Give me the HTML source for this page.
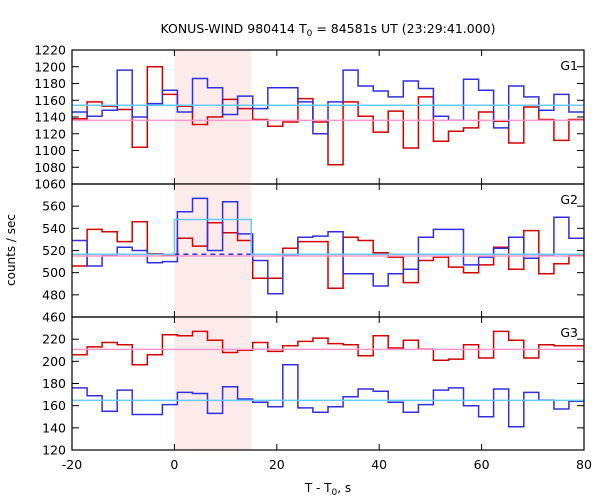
<!DOCTYPE html>
<html><head><meta charset="utf-8"><style>
body{margin:0;background:#fff;}
svg{display:block;font-family:"DejaVu Sans","Liberation Sans",sans-serif;}
</style></head><body>
<svg id="chart" width="600" height="500" xmlns="http://www.w3.org/2000/svg">
<text x="328" y="33" font-size="12.5" text-anchor="middle">KONUS-WIND 980414 T<tspan font-size="9" dy="3">0</tspan><tspan dy="-3"> = 84581s UT (23:29:41.000)</tspan></text>
<text transform="translate(15,250) rotate(-90)" font-size="12" text-anchor="middle">counts / sec</text>
<text x="328" y="492" font-size="12" text-anchor="middle">T - T<tspan font-size="9" dy="3">0</tspan><tspan dy="-3">, s</tspan></text>
<g id="plots"></g>
</svg>
<script>
const binStart = -20;
const binWidth = 100/34;
const xTicks = [-20, 0, 20, 40, 60, 80];
const intervalStart = 0;
const intervalEnd = 15;
const g1Red = [1138,1158,1153,1149,1104,1200,1167,1153,1131,1140,1161,1150,1137,1129,1134,1162,1134,1083,1158,1141,1122,1147,1103,1164,1111,1123,1127,1146,1135,1109,1152,1137,1112,1137];
const g1Blue = [1146,1141,1148,1196,1140,1156,1172,1146,1186,1175,1143,1165,1150,1175,1175,1158,1120,1158,1196,1177,1171,1164,1183,1174,1141,1136,1185,1172,1127,1177,1164,1148,1167,1146];
const g1Ticks = [1060,1080,1100,1120,1140,1160,1180,1200,1220];
const g1Bg = [1154, 1136];
const g2Red = [506,539,537,528,546,517,516,531,524,545,536,529,495,495,522,528,528,486,532,529,518,514,491,511,514,505,500,507,523,503,538,499,508,516];
const g2Blue = [529,506,516,523,520,509,510,555,567,520,564,535,511,481,516,532,533,537,499,499,488,499,503,532,539,539,507,514,522,532,513,516,550,531];
const g2Ticks = [460,480,500,520,540,560];
const g2Bg = [516.6, 515];
const g2BurstLevel = 548;
const g3Red = [206,213,217,215,197,206,224,223,227,219,208,210,217,209,214,218,221,216,215,205,223,212,219,211,201,202,215,203,227,219,203,215,214,214];
const g3Blue = [176,169,155,174,152,152,161,172,171,153,177,166,163,159,197,158,154,159,168,175,173,163,154,161,174,176,160,150,175,141,172,165,157,164];
const g3Ticks = [120,140,160,180,200,220];
const g3Bg = [164.8, 210.8];

const NS = 'http://www.w3.org/2000/svg';
const X0 = 72, X1 = 584;
function xs(t){ return X0 + (t + 20) / 100 * (X1 - X0); }
const root = document.getElementById('plots');
function mk(tag, attrs, parent){
  const e = document.createElementNS(NS, tag);
  for (const k in attrs) e.setAttribute(k, attrs[k]);
  (parent || root).appendChild(e);
  return e;
}
function stepPath(vals, ys){
  let d = '';
  vals.forEach((v, i) => {
    const xa = xs(binStart + i*binWidth), xb = xs(binStart + (i+1)*binWidth);
    d += (i === 0 ? 'M' : 'L') + xa.toFixed(1) + ',' + ys(v).toFixed(1) + 'L' + xb.toFixed(1) + ',' + ys(v).toFixed(1);
  });
  return d;
}
function panel(name, top, bot, vmin, vmax, ticks, red, blue, bg, label, g2){
  const ys = v => bot - (v - vmin) / (vmax - vmin) * (bot - top);
  const g = mk('g', {});
  
  
  const sh = mk('rect', {x: xs(intervalStart), y: top, width: xs(intervalEnd) - xs(intervalStart), height: bot - top, fill: '#fdeaea'}, g);
  
  
  const rp = mk('path', {d: stepPath(red, ys), fill: 'none', stroke: '#d40000', 'stroke-width': 1.5}, g);
  
  
  const bp = mk('path', {d: stepPath(blue, ys), fill: 'none', stroke: '#3030e0', 'stroke-width': 1.5}, g);
  
  
  if (g2) {
    const dl = mk('line', {x1: xs(intervalStart), x2: xs(intervalEnd), y1: ys(bg[0]), y2: ys(bg[0]), stroke: '#3030e0', 'stroke-width': 1.5, 'stroke-dasharray': '5,4'}, g);
    
    
    const cy = ys(bg[0]), cb = ys(g2BurstLevel);
    const d = 'M' + X0 + ',' + cy + 'L' + xs(intervalStart) + ',' + cy + 'L' + xs(intervalStart) + ',' + cb + 'L' + xs(intervalEnd) + ',' + cb + 'L' + xs(intervalEnd) + ',' + cy + 'L' + X1 + ',' + cy;
    const cl = mk('path', {d: d, fill: 'none', stroke: '#66ccff', 'stroke-width': 1.5}, g);
    
    
  } else {
    const cl = mk('line', {x1: X0, x2: X1, y1: ys(bg[0]), y2: ys(bg[0]), stroke: '#66ccff', 'stroke-width': 1.5}, g);
    
    
  }
  const pl = mk('line', {x1: X0, x2: X1, y1: ys(bg[1]), y2: ys(bg[1]), stroke: '#ff99cc', 'stroke-width': 1.5}, g);
  
  
  const fr = mk('rect', {x: X0, y: top, width: X1 - X0, height: bot - top, fill: 'none', stroke: '#000', 'stroke-width': 1.2}, g);
  
  
  ticks.forEach(t => {
    const y = ys(t);
    mk('line', {x1: X0, x2: X0 + 7, y1: y, y2: y, stroke: '#000'}, g);
    mk('line', {x1: X1, x2: X1 - 7, y1: y, y2: y, stroke: '#000'}, g);
    const tx = mk('text', {x: X0 - 6, y: y + 4.5, 'font-size': 12.5, 'text-anchor': 'end'}, g);
    tx.textContent = t;
    
    
  });
  xTicks.slice(1, -1).forEach(t => {
    mk('line', {x1: xs(t), x2: xs(t), y1: bot, y2: bot - 6, stroke: '#000'}, g);
    mk('line', {x1: xs(t), x2: xs(t), y1: top, y2: top + 6, stroke: '#000'}, g);
  });
  const lb = mk('text', {x: 578, y: top + 20, 'font-size': 12.5, 'text-anchor': 'end'}, g);
  lb.textContent = label;
  
  
}
panel('g1', 50, 184, 1060, 1220, g1Ticks, g1Red, g1Blue, g1Bg, 'G1', false);
panel('g2', 184, 317, 460, 580, g2Ticks, g2Red, g2Blue, g2Bg, 'G2', true);
panel('g3', 317, 450, 120, 240, g3Ticks, g3Red, g3Blue, g3Bg, 'G3', false);
xTicks.forEach(t => {
  const tx = mk('text', {x: xs(t), y: 469, 'font-size': 12.5, 'text-anchor': 'middle'});
  tx.textContent = t;
  
  
});
</script>
</body></html>
